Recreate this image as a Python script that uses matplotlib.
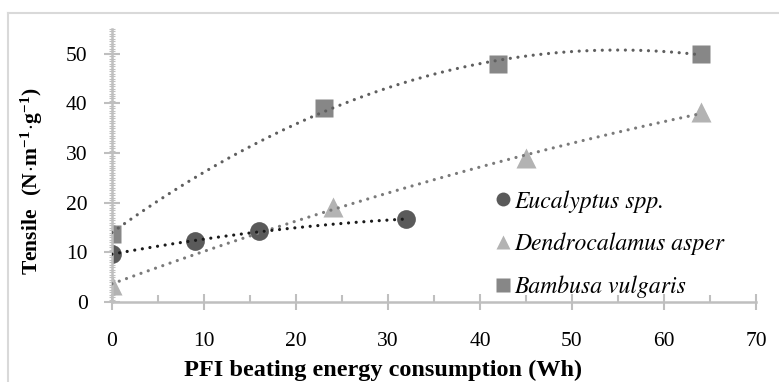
import numpy as np
import matplotlib
matplotlib.use('Agg')
import matplotlib.pyplot as plt
from matplotlib import font_manager as fm
from matplotlib.lines import Line2D

plt.rcParams['font.family'] = ['Liberation Serif', 'DejaVu Serif']
plt.rcParams['mathtext.fontset'] = 'custom'
plt.rcParams['mathtext.rm'] = 'Liberation Serif'
plt.rcParams['mathtext.bf'] = 'Liberation Serif:bold'

# data
euc_x = [0, 9, 16, 32]
euc_y = [9.7, 12.2, 14.3, 16.7]
den_x = [0, 24, 45, 64]
den_y = [3.5, 19.2, 29.0, 38.2]
bam_x = [0, 23, 42, 64]
bam_y = [13.8, 39.0, 48.0, 50.0]

names = ['Eucalyptus spp.', 'Dendrocalamus asper', 'Bambusa vulgaris']

W, H = 779, 382
fig = plt.figure(figsize=(W / 100, H / 100), dpi=100)
ax = fig.add_axes([112 / W, 1 - 302 / H, (756 - 112) / W, (302 - 29) / H])

axis_col = '#bfbfbf'


def trend(x, y, col):
    # 2nd order polynomial trendline like excel
    c = np.polyfit(x, y, 2)
    xs = np.linspace(min(x), max(x), 200)
    ax.plot(xs, np.polyval(c, xs), color=col, lw=2.3,
            linestyle=(0, (0.01, 2.4)), dash_capstyle='round', zorder=3)


trend(bam_x, bam_y, '#5f5f5f')
trend(den_x, den_y, '#7a7a7a')
trend(euc_x, euc_y, '#1a1a1a')

ax.plot(den_x, den_y, '^', color='#b3b3b3', ms=14, mec='none', zorder=2)
ax.plot(bam_x, bam_y, 's', color='#878787', ms=12.5, mec='none', zorder=2)
ax.plot(euc_x, euc_y, 'o', color='#5a5a5a', ms=13.5, mec='none', zorder=2)

ax.set_xlim(0, 70)
ax.set_ylim(0, 55)
ax.set_xticks(range(0, 71, 10))
ax.set_xticks(range(5, 70, 10), minor=True)
ax.set_yticks(range(0, 51, 10))
ax.set_yticks(np.arange(0, 55.1, 0.5), minor=True)

for s in ['top', 'right']:
    ax.spines[s].set_visible(False)
for s in ['left', 'bottom']:
    ax.spines[s].set_color(axis_col)
    ax.spines[s].set_linewidth(1.8)
ax.spines['left'].set_bounds(0, 55)

ax.tick_params(axis='x', which='major', direction='inout', length=11, width=1.5,
               color=axis_col, labelsize=15.5, pad=16)
ax.tick_params(axis='x', which='minor', direction='in', length=5, width=1.5, color=axis_col)
ax.tick_params(axis='y', which='major', direction='inout', length=11, width=1.5,
               color=axis_col, labelsize=15.5, pad=12)
ax.tick_params(axis='y', which='minor', direction='inout', length=4, width=0.8, color=axis_col)
ax.set_facecolor('none')

fig.text(383 / W, 1 - 370 / H, 'PFI beating energy consumption (Wh)',
         ha='center', va='center', fontsize=17.5, fontweight='bold')
fig.text(32 / W, 1 - 181 / H, r'$\mathbf{Tensile\ \ (N\!\cdot\! m^{-1}\!\cdot\! g^{-1})}$',
         ha='center', va='center', rotation=90, fontsize=15.5)

handles = [
    Line2D([], [], ls='none', marker='o', color='#5a5a5a', ms=10, mec='none'),
    Line2D([], [], ls='none', marker='^', color='#b3b3b3', ms=10, mec='none'),
    Line2D([], [], ls='none', marker='s', color='#878787', ms=10, mec='none'),
]
# STIX ships with matplotlib and has a Times-like italic
leg_font = fm.FontProperties(family='STIXGeneral', style='italic', size=17)
fig.legend(handles, names, loc='center left', bbox_to_anchor=(483 / W, 1 - 244 / H),
           frameon=False, prop=leg_font,
           handlelength=0.7, handletextpad=0.1, labelspacing=0.85, borderpad=0)

# outer chart frame (cropped)
fig.add_artist(Line2D([8 / W, 1], [1 - 13 / H, 1 - 13 / H], color='#d9d9d9', lw=1.5,
                      transform=fig.transFigure))
fig.add_artist(Line2D([8 / W, 8 / W], [0, 1 - 13 / H], color='#d9d9d9', lw=1.5,
                      transform=fig.transFigure))

fig.savefig('out.png', dpi=100)
